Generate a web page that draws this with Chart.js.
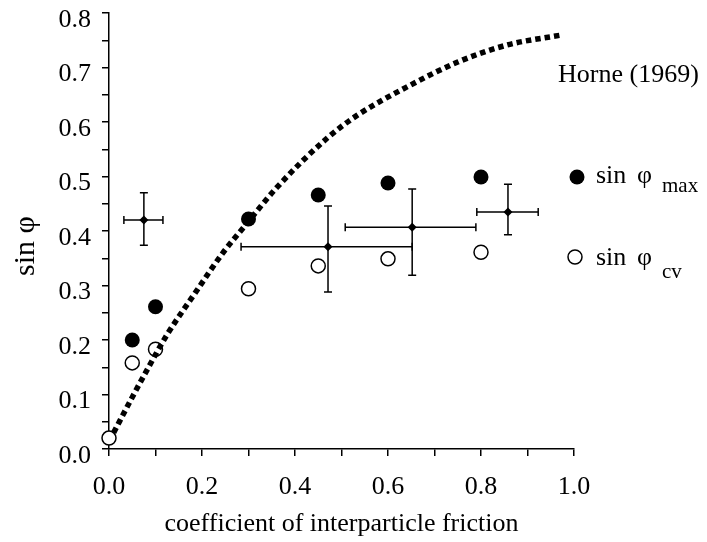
<!DOCTYPE html>
<html><head><meta charset="utf-8">
<script src="https://cdn.jsdelivr.net/npm/chart.js@4/dist/chart.umd.min.js"></script>
<style>html,body{margin:0;padding:0;background:#fff}#wrap{width:707px;height:542px}</style>
</head><body><div id="wrap"><canvas id="c"></canvas></div>
<script>
// ---- data ----
const frictionMax = [0.05, 0.10, 0.30, 0.45, 0.60, 0.80];
const sinPhiMax   = [0.200, 0.261, 0.422, 0.466, 0.488, 0.499];
const frictionCv  = [0.00, 0.05, 0.10, 0.30, 0.45, 0.60, 0.80];
const sinPhiCv    = [0.020, 0.158, 0.183, 0.294, 0.336, 0.349, 0.361];
const horneX = [0.01, 0.05, 0.085, 0.125, 0.185, 0.245, 0.29, 0.36, 0.47, 0.535, 0.64, 0.75, 0.855, 0.975];
const horneY = [0.03, 0.095, 0.150, 0.210, 0.286, 0.360, 0.407, 0.479, 0.571, 0.613, 0.664, 0.710, 0.741, 0.760];
const errX     = [0.075, 0.471, 0.652, 0.858];
const errY     = [0.420, 0.371, 0.407, 0.435];
const errXLow  = [0.032, 0.284, 0.508, 0.791];
const errXHigh = [0.116, 0.652, 0.789, 0.923];
const errYLow  = [0.374, 0.288, 0.319, 0.393];
const errYHigh = [0.470, 0.446, 0.477, 0.486];
const xTickLabels = ['0.0', '0.2', '0.4', '0.6', '0.8', '1.0'];
const yTickLabels = ['0.0', '0.1', '0.2', '0.3', '0.4', '0.5', '0.6', '0.7', '0.8'];
const xTitle = 'coefficient of interparticle friction';
const yTitle = 'sin φ';
const horneLabel = 'Horne (1969)';

const SERIF = '"Liberation Serif", "Times New Roman", serif';
const toPts = (xs, ys) => xs.map((x, i) => ({x: x, y: ys[i]}));

const errorBars = {
  id: 'errorBars',
  afterDatasetsDraw(chart) {
    const {ctx, scales: {x, y}} = chart;
    ctx.save();
    ctx.strokeStyle = '#000';
    ctx.lineWidth = 1.5;
    const cap = 4;
    for (let i = 0; i < errX.length; i++) {
      const cx = x.getPixelForValue(errX[i]), cy = y.getPixelForValue(errY[i]);
      const xl = x.getPixelForValue(errXLow[i]), xh = x.getPixelForValue(errXHigh[i]);
      const yl = y.getPixelForValue(errYLow[i]), yh = y.getPixelForValue(errYHigh[i]);
      ctx.beginPath();
      ctx.moveTo(xl, cy); ctx.lineTo(xh, cy);
      ctx.moveTo(xl, cy - cap); ctx.lineTo(xl, cy + cap);
      ctx.moveTo(xh, cy - cap); ctx.lineTo(xh, cy + cap);
      ctx.moveTo(cx, yl); ctx.lineTo(cx, yh);
      ctx.moveTo(cx - cap, yl); ctx.lineTo(cx + cap, yl);
      ctx.moveTo(cx - cap, yh); ctx.lineTo(cx + cap, yh);
      ctx.stroke();
    }
    ctx.restore();
  }
};

const annotations = {
  id: 'annotations',
  afterDraw(chart) {
    const ctx = chart.ctx;
    ctx.save();
    ctx.fillStyle = '#000';
    ctx.strokeStyle = '#000';
    // y title
    ctx.save();
    ctx.translate(26, 246);
    ctx.rotate(-Math.PI / 2);
    ctx.font = '30px ' + SERIF;
    ctx.textAlign = 'center';
    ctx.textBaseline = 'middle';
    ctx.fillText(yTitle, 0, 0);
    ctx.restore();
    // legend
    ctx.textAlign = 'left';
    ctx.textBaseline = 'alphabetic';
    ctx.font = '26px ' + SERIF;
    ctx.fillText(horneLabel, 558, 82);
    ctx.beginPath(); ctx.arc(577, 177, 7.5, 0, Math.PI * 2); ctx.fill();
    ctx.fillText('sin', 596, 183);
    ctx.fillText('φ', 637, 183);
    ctx.font = '21px ' + SERIF;
    ctx.fillText('max', 662, 192);
    ctx.beginPath(); ctx.arc(575, 257, 7, 0, Math.PI * 2);
    ctx.lineWidth = 1.5; ctx.fillStyle = '#fff'; ctx.fill(); ctx.stroke();
    ctx.fillStyle = '#000';
    ctx.font = '26px ' + SERIF;
    ctx.fillText('sin', 596, 265);
    ctx.fillText('φ', 637, 265);
    ctx.font = '21px ' + SERIF;
    ctx.fillText('cv', 662, 278);
    ctx.restore();
  }
};

new Chart(document.getElementById('c'), {
  type: 'scatter',
  data: {
    datasets: [
      {
        label: horneLabel,
        type: 'line',
        data: toPts(horneX, horneY),
        showLine: true,
        borderColor: '#000',
        borderWidth: 5.5,
        borderDash: [5.5, 4],
        borderCapStyle: 'butt',
        pointRadius: 0,
        cubicInterpolationMode: 'monotone',
        fill: false,
        clip: false
      },
      {
        label: 'sin φmax',
        data: toPts(frictionMax, sinPhiMax),
        pointStyle: 'circle',
        pointRadius: 7.5,
        backgroundColor: '#000',
        borderColor: '#000',
        borderWidth: 0,
        clip: false
      },
      {
        label: 'sin φcv',
        data: toPts(frictionCv, sinPhiCv),
        pointStyle: 'circle',
        pointRadius: 7,
        backgroundColor: '#fff',
        borderColor: '#000',
        borderWidth: 1.5,
        clip: false
      },
      {
        label: 'mean',
        data: toPts(errX, errY),
        pointStyle: 'rectRot',
        pointRadius: 4.5,
        backgroundColor: '#000',
        borderColor: '#000',
        borderWidth: 0,
        clip: false
      }
    ]
  },
  options: {
    responsive: true,
    maintainAspectRatio: false,
    animation: false,
    layout: {padding: {top: 13, right: 133, left: 0, bottom: 0}},
    plugins: {legend: {display: false}, tooltip: {enabled: false}},
    scales: {
      x: {
        type: 'linear', min: 0, max: 1,
        afterFit: s => { s.height = 93; s.paddingLeft = 0; s.paddingRight = 0; },
        afterBuildTicks: s => { s.ticks = Array.from({length: 11}, (_, i) => ({value: i / 10})); },
        ticks: {
          autoSkip: false, maxRotation: 0, color: '#000', padding: 16,
          font: {family: SERIF, size: 26},
          callback: (v) => { const k = Math.round(v * 10); return k % 2 === 0 ? xTickLabels[k / 2] : ''; }
        },
        grid: {drawOnChartArea: false, drawTicks: true, tickLength: 7, color: '#000', lineWidth: 1.5},
        border: {display: true, color: '#000', width: 1.5},
        title: {display: true, text: xTitle, color: '#000', font: {family: SERIF, size: 26}, padding: {top: 0, bottom: 2}}
      },
      y: {
        type: 'linear', min: 0, max: 0.8,
        afterFit: s => { s.width = 109; s.paddingTop = 0; s.paddingBottom = 0; },
        afterBuildTicks: s => { s.ticks = Array.from({length: 17}, (_, i) => ({value: i / 20})); },
        ticks: {
          autoSkip: false, color: '#000', padding: 11, labelOffset: 7,
          font: {family: SERIF, size: 26, lineHeight: 1},
          callback: (v) => { const k = Math.round(v * 20); return k % 2 === 0 ? yTickLabels[k / 2] : ''; }
        },
        grid: {drawOnChartArea: false, drawTicks: true, tickLength: 7, color: '#000', lineWidth: 1.5},
        border: {display: true, color: '#000', width: 1.5}
      }
    }
  },
  plugins: [errorBars, annotations]
});
</script>
</body></html>
